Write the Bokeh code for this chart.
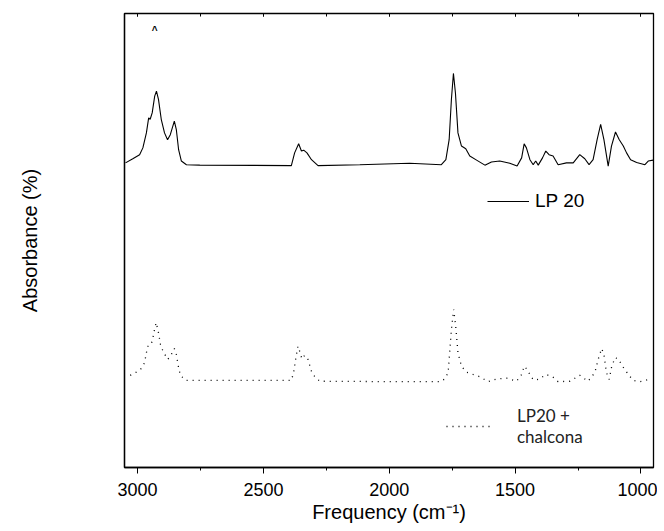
from bokeh.plotting import figure
from bokeh.models import (Range1d, LinearAxis, SingleIntervalTicker, FixedTicker, Legend, LegendItem, Label)
from bokeh.embed import file_html
from bokeh.resources import INLINE

# ---- data ----
wn_lp20 = [3048, 3019, 2992, 2979, 2965, 2956, 2950, 2942, 2932, 2925, 2917, 2906, 2893, 2881,
           2870, 2862, 2854, 2846, 2837, 2826, 2806, 2753, 2389, 2376, 2360, 2349, 2340, 2327,
           2309, 2283, 2117, 1919, 1793, 1775, 1762, 1753, 1745, 1737, 1727, 1713, 1696, 1680,
           1653, 1620, 1594, 1561, 1521, 1492, 1474, 1464, 1455, 1441, 1428, 1418, 1408, 1391,
           1378, 1365, 1349, 1329, 1296, 1269, 1243, 1223, 1206, 1190, 1174, 1160, 1147, 1130,
           1117, 1101, 1086, 1070, 1057, 1041, 1017, 984, 971, 951]
abs_lp20 = [67.1, 68.0, 68.9, 70.4, 73.7, 77.0, 76.7, 78.1, 81.8, 82.9, 81.1, 76.7, 73.7, 72.2,
            73.3, 74.8, 76.3, 74.4, 70.0, 67.5, 66.7, 66.6, 66.5, 69.3, 71.3, 69.7, 69.9, 69.3,
            67.8, 66.5, 66.7, 67.0, 66.7, 67.8, 72.2, 81.1, 86.8, 82.5, 73.7, 70.8, 70.2, 68.6,
            67.7, 66.6, 67.3, 67.5, 67.0, 66.4, 68.2, 71.3, 70.4, 67.8, 66.7, 67.5, 66.6, 68.2,
            69.7, 68.9, 68.6, 66.7, 67.1, 67.1, 68.9, 68.0, 66.7, 67.8, 72.2, 75.6, 72.2, 66.4,
            70.8, 73.9, 72.2, 70.8, 69.3, 67.8, 67.2, 66.7, 67.5, 67.7]

wn_chal = [3029, 3005, 2985, 2972, 2965, 2959, 2946, 2939, 2932, 2926, 2917, 2909, 2899, 2880,
           2866, 2854, 2846, 2838, 2830, 2809, 2389, 2380, 2372, 2363, 2356, 2347, 2336, 2323,
           2309, 2296, 2276, 1958, 1799, 1779, 1766, 1760, 1753, 1744, 1736, 1727, 1713, 1693,
           1667, 1640, 1607, 1574, 1534, 1494, 1474, 1464, 1452, 1435, 1422, 1402, 1378, 1351,
           1329, 1282, 1243, 1210, 1183, 1170, 1156, 1147, 1137, 1126, 1117, 1103, 1090, 1073,
           1050, 1031, 1004, 958]
abs_chal = [20.3, 21.0, 21.8, 23.1, 25.3, 26.7, 27.1, 28.6, 30.6, 31.9, 29.7, 27.1, 25.6, 23.8,
            24.9, 26.2, 24.9, 22.3, 20.3, 19.2, 19.2, 20.9, 23.8, 26.7, 25.6, 23.9, 24.7, 23.8,
            21.2, 20.0, 19.0, 18.9, 18.9, 19.5, 20.9, 25.3, 30.4, 34.8, 31.1, 25.3, 22.3, 21.0,
            20.5, 20.0, 18.9, 19.5, 19.7, 19.0, 20.5, 22.3, 21.6, 19.8, 19.2, 19.5, 20.5, 20.0,
            18.9, 19.0, 20.3, 19.0, 20.9, 23.8, 26.2, 24.9, 20.9, 19.4, 22.0, 24.2, 23.9, 22.3,
            20.5, 19.2, 18.9, 19.5]

label_lp20 = "LP 20"
label_chal = "LP20 +\nchalcona"
x_title = "Frequency (cm\u207b\u00b9)"
y_title = "Absorbance (%)"

FONT = "Liberation Sans"

p = figure(frame_width=529, frame_height=454, output_backend="svg", toolbar_location=None,
           x_range=Range1d(3052, 950), y_range=Range1d(0, 100),
           min_border_left=124, min_border_top=13, min_border_right=4, min_border_bottom=50,
           x_axis_location=None, y_axis_location=None)
p.grid.visible = False
p.outline_line_color = "black"
p.outline_line_width = 1.3
p.background_fill_color = "white"
p.border_fill_color = "white"

# bottom axis
xb = LinearAxis(ticker=SingleIntervalTicker(interval=500, num_minor_ticks=2))
xb.axis_label = x_title
xb.axis_label_text_font = FONT
xb.axis_label_text_font_size = "20px"
xb.axis_label_text_font_style = "normal"
xb.axis_label_text_color = "black"
xb.axis_label_standoff = 2
xb.major_label_text_font = FONT
xb.major_label_text_font_size = "18px"
xb.major_label_text_color = "black"
xb.major_label_standoff = 9
xb.major_tick_out = 6
xb.major_tick_in = 0
xb.minor_tick_out = 3
xb.minor_tick_in = 0
xb.axis_line_color = "black"
xb.axis_line_width = 1.3
xb.major_tick_line_color = "black"
xb.minor_tick_line_color = "black"
p.add_layout(xb, "below")

# top axis (ticks only, inward, no labels drawn)
xt = LinearAxis(ticker=SingleIntervalTicker(interval=500, num_minor_ticks=2))
xt.major_label_text_font_size = "1px"
xt.major_label_text_color = None
xt.major_tick_out = 0
xt.major_tick_in = 3
xt.minor_tick_out = 0
xt.minor_tick_in = 3
xt.axis_line_color = "black"
xt.major_tick_line_color = "black"
xt.minor_tick_line_color = "black"
xt.major_label_standoff = 0
p.add_layout(xt, "above")

# left axis: only title
yl = LinearAxis(ticker=FixedTicker(ticks=[]))
yl.axis_label = y_title
yl.axis_label_text_font = FONT
yl.axis_label_text_font_size = "20px"
yl.axis_label_text_font_style = "normal"
yl.axis_label_text_color = "black"
yl.major_label_text_font_size = "1px"
yl.major_label_text_color = None
yl.major_tick_line_color = None
yl.minor_tick_line_color = None
yl.axis_line_color = "black"
yl.axis_line_width = 1.3
yl.axis_label_standoff = 84
p.add_layout(yl, "left")

r1 = p.line(wn_lp20, abs_lp20, line_color="black", line_width=1.1)
r2 = p.line(wn_chal, abs_chal, line_color="black", line_width=1.3, line_dash="1 5")

lg1 = Legend(items=[LegendItem(label=label_lp20, renderers=[r1])],
             location=(363, 255), padding=0, margin=0, spacing=0,
             glyph_width=42, glyph_height=20, label_height=20, label_standoff=6,
             label_text_font=FONT, label_text_font_size="19px", label_text_color="black",
             border_line_alpha=0, background_fill_alpha=0)
lg2 = Legend(items=[LegendItem(label=label_chal, renderers=[r2])],
             location=(322, 20), padding=0, margin=0, spacing=0,
             glyph_width=45, glyph_height=20, label_height=20, label_standoff=26,
             label_text_font="Lato", label_text_font_size="17px", label_text_color="#222222",
             border_line_alpha=0, background_fill_alpha=0)
p.add_layout(lg1, "center")
p.add_layout(lg2, "center")

mark = Label(x=2932, y=96.2, text="^", text_font=FONT, text_font_size="10px",
             text_font_style="bold", text_align="center", text_baseline="middle",
             text_color="black")
p.add_layout(mark)

open("out.html", "w").write(file_html(p, INLINE))
